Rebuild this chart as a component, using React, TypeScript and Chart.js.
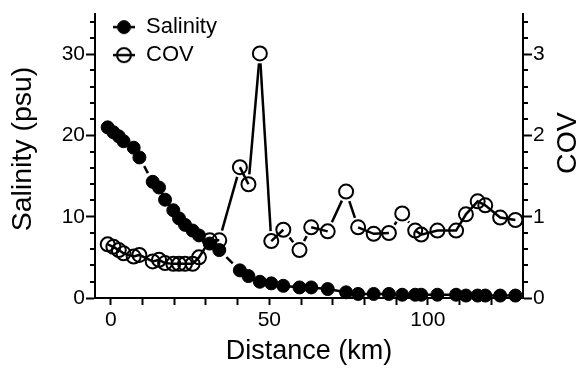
import React, { useEffect, useRef } from 'react';
import { Chart, registerables } from 'chart.js';

Chart.register(...registerables);

// ---- data ----
const distanceKm = [-1, 0.8, 2.5, 4, 7.2, 9, 13.2, 15.2, 17.1, 19.7, 21.5, 23.4, 25.8, 27.8, 31.2, 34.2, 40.7, 43.4, 47, 50.6, 54.4, 59.5, 63.2, 68.4, 74.2, 78, 82.9, 87.7, 91.9, 96, 97.9, 103, 108.9, 112, 115.7, 118.1, 122.8, 127.6];
const salinityPsu = [21.0, 20.4, 19.9, 19.3, 18.5, 17.3, 14.3, 13.6, 12.1, 10.8, 9.8, 9.0, 8.3, 7.7, 6.7, 5.9, 3.4, 2.7, 2.0, 1.8, 1.5, 1.3, 1.3, 1.1, 0.7, 0.5, 0.5, 0.5, 0.4, 0.4, 0.4, 0.4, 0.4, 0.3, 0.3, 0.3, 0.3, 0.3];
const covValues = [0.66, 0.63, 0.59, 0.55, 0.51, 0.53, 0.45, 0.47, 0.43, 0.42, 0.42, 0.42, 0.42, 0.50, 0.71, 0.71, 1.61, 1.40, 3.01, 0.70, 0.84, 0.59, 0.87, 0.82, 1.31, 0.87, 0.79, 0.80, 1.04, 0.83, 0.78, 0.83, 0.83, 1.03, 1.19, 1.14, 0.99, 0.96];

const seriesNames = ['Salinity', 'COV'];
const xTitle = 'Distance (km)';
const yLeftTitle = 'Salinity (psu)';
const yRightTitle = 'COV';

const xTickValues = [0, 10, 20, 30, 40, 50, 60, 70, 80, 90, 100, 110, 120];
const xTickLabels = [0, 50, 100];
const leftMajorTicks = [0, 10, 20, 30];
const leftMinorTicks = [2, 4, 6, 8, 12, 14, 16, 18, 22, 24, 26, 28, 32, 34];
const rightMajorTicks = [0, 1, 2, 3];
const rightMinorTicks = [0.2, 0.4, 0.6, 0.8, 1.2, 1.4, 1.6, 1.8, 2.2, 2.4, 2.6, 2.8, 3.2, 3.4];

const FONT = "'Liberation Sans', Arial, Helvetica, sans-serif";
const GAP = 10;

function segmentDash(ctx: any) {
  const a = ctx.p0, b = ctx.p1;
  const L = Math.hypot(b.x - a.x, b.y - a.y);
  if (L <= 2 * GAP + 1) return undefined;
  return [0, GAP, L - 2 * GAP, GAP + 2000];
}

function makeIcon(filled: boolean) {
  const c = document.createElement('canvas');
  c.width = 24;
  c.height = 18;
  const g = c.getContext('2d')!;
  g.strokeStyle = '#000';
  g.lineWidth = 2.5;
  g.beginPath();
  g.moveTo(1, 9);
  g.lineTo(23, 9);
  g.stroke();
  g.beginPath();
  g.arc(12, 9, filled ? 6.5 : 7, 0, Math.PI * 2);
  if (filled) {
    g.fillStyle = '#000';
    g.fill();
    g.lineWidth = 1;
  } else {
    g.lineWidth = 2;
  }
  g.stroke();
  return c;
}

const extrasPlugin = {
  id: 'extras',
  afterLayout(chart: any) {
    const lg = chart.legend;
    if (lg) {
      lg.left = chart.chartArea.left + 12;
      lg.top = chart.chartArea.top - 3.5;
    }
  },
  afterDraw(chart: any) {
    const ctx = chart.ctx;
    const yl = chart.scales.y;
    const yr = chart.scales.y1;
    ctx.save();
    ctx.strokeStyle = '#000';
    ctx.lineWidth = 2;
    ctx.beginPath();
    leftMinorTicks.forEach((v) => {
      const p = Math.round(yl.getPixelForValue(v));
      ctx.moveTo(yl.right, p);
      ctx.lineTo(yl.right - 5, p);
    });
    rightMinorTicks.forEach((v) => {
      const p = Math.round(yr.getPixelForValue(v));
      ctx.moveTo(yr.left, p);
      ctx.lineTo(yr.left + 5, p);
    });
    ctx.stroke();
    // rotated axis titles (both read bottom-to-top)
    ctx.fillStyle = '#000';
    ctx.font = `28.5px ${FONT}`;
    ctx.textAlign = 'center';
    ctx.textBaseline = 'middle';
    ctx.save();
    ctx.translate(23.5, 149);
    ctx.rotate(-Math.PI / 2);
    ctx.fillText(yLeftTitle, 0, 0);
    ctx.restore();
    ctx.save();
    ctx.translate(568, 143);
    ctx.rotate(-Math.PI / 2);
    ctx.fillText(yRightTitle, 0, 0);
    ctx.restore();
    ctx.restore();
  },
};

export default function App() {
  const ref = useRef<HTMLCanvasElement>(null);
  useEffect(() => {
    if (!ref.current) return;
    const icons = [makeIcon(true), makeIcon(false)];
    const chart = new Chart(ref.current, {
      type: 'line',
      data: {
        datasets: [
          {
            label: seriesNames[0],
            data: distanceKm.map((x, i) => ({ x, y: salinityPsu[i] })),
            yAxisID: 'y',
            borderColor: '#000',
            borderWidth: 2.5,
            backgroundColor: '#000',
            pointRadius: 6.5,
            pointBorderWidth: 1,
            pointBackgroundColor: '#000',
            pointBorderColor: '#000',
            pointStyle: 'circle',
            clip: false as any,
            segment: { borderDash: segmentDash } as any,
          },
          {
            label: seriesNames[1],
            data: distanceKm.map((x, i) => ({ x, y: covValues[i] })),
            yAxisID: 'y1',
            borderColor: '#000',
            borderWidth: 2.5,
            backgroundColor: 'rgba(0,0,0,0)',
            pointRadius: 7,
            pointBorderWidth: 2,
            pointBackgroundColor: 'rgba(0,0,0,0)',
            pointBorderColor: '#000',
            pointStyle: 'circle',
            clip: false as any,
            segment: { borderDash: segmentDash } as any,
          },
        ],
      },
      options: {
        responsive: false,
        animation: false,
        devicePixelRatio: 1,
        layout: { padding: { top: 12.6, left: 0, right: 0, bottom: 0 } },
        font: { family: FONT } as any,
        plugins: {
          tooltip: { enabled: false },
          legend: {
            position: 'chartArea' as any,
            align: 'start',
            labels: {
              usePointStyle: true,
              boxWidth: 22,
              boxHeight: 22,
              pointStyleWidth: 22,
              padding: 6,
              color: '#000',
              font: { size: 22, family: FONT },
              generateLabels: (chart: any) =>
                chart.data.datasets.map((ds: any, i: number) => ({
                  text: ds.label,
                  pointStyle: icons[i],
                  fillStyle: '#000',
                  strokeStyle: '#000',
                  lineWidth: 0,
                  hidden: false,
                  datasetIndex: i,
                  fontColor: '#000',
                })),
            },
          },
        },
        scales: {
          x: {
            type: 'linear',
            min: -5,
            max: 130,
            afterBuildTicks: (s: any) => {
              s.ticks = xTickValues.map((v) => ({ value: v }));
            },
            afterFit: (s: any) => {
              s.height = 70;
            },
            ticks: {
              autoSkip: false,
              maxRotation: 0,
              padding: 3,
              color: '#000',
              font: { size: 21, family: FONT },
              callback: (v: any) => (xTickLabels.includes(Number(v)) ? String(v) : ''),
            },
            grid: { display: true, drawOnChartArea: false, drawTicks: true, tickLength: 7, tickWidth: 2, tickColor: '#000' },
            border: { display: true, color: '#000', width: 2 },
            title: { display: true, text: xTitle, color: '#000', font: { size: 27, family: FONT }, padding: { top: 0, bottom: 0 } },
          },
          y: {
            type: 'linear',
            position: 'left',
            min: 0,
            max: 35,
            afterBuildTicks: (s: any) => {
              s.ticks = leftMajorTicks.map((v) => ({ value: v }));
            },
            afterFit: (s: any) => {
              s.width = 95;
            },
            ticks: { padding: 1, color: '#000', font: { size: 21, family: FONT } },
            grid: { display: true, drawOnChartArea: false, drawTicks: true, tickLength: 9, tickWidth: 2, tickColor: '#000' },
            border: { display: true, color: '#000', width: 2 },
            title: { display: false },
          },
          y1: {
            type: 'linear',
            position: 'right',
            min: 0,
            max: 3.5,
            afterBuildTicks: (s: any) => {
              s.ticks = rightMajorTicks.map((v) => ({ value: v }));
            },
            afterFit: (s: any) => {
              s.width = 56;
            },
            ticks: { padding: 1, color: '#000', font: { size: 21, family: FONT } },
            grid: { display: true, drawOnChartArea: false, drawTicks: true, tickLength: 9, tickWidth: 2, tickColor: '#000' },
            border: { display: true, color: '#000', width: 2 },
            title: { display: false },
          },
        },
      } as any,
      plugins: [extrasPlugin as any],
    });
    return () => chart.destroy();
  }, []);

  return (
    <div style={{ position: 'fixed', left: 0, top: 0, width: 579, height: 368, background: '#fff' }}>
      <canvas ref={ref} width={579} height={368} style={{ width: 579, height: 368, display: 'block' }} />
    </div>
  );
}
